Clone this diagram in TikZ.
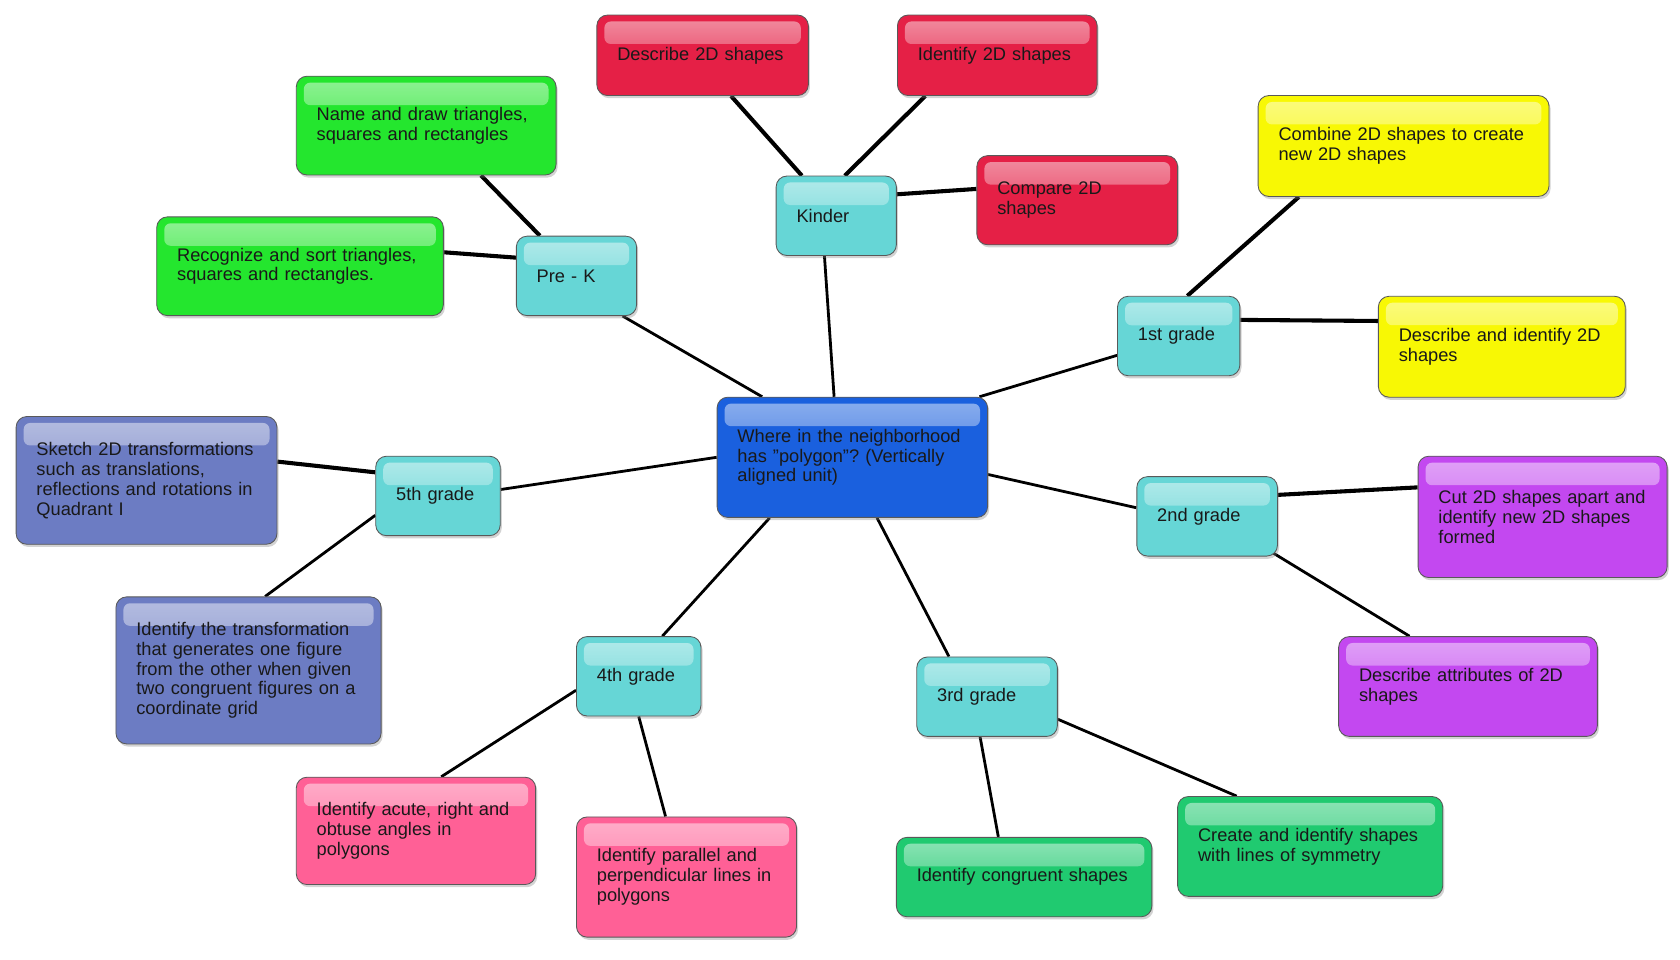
\documentclass[tikz,border=0pt]{standalone}
\usepackage{fontspec}
\setmainfont{Liberation Sans}
\frenchspacing
\usetikzlibrary{shadows,backgrounds,fadings}
\definecolor{rootblue}{RGB}{26,96,222}
\definecolor{gradeteal}{RGB}{102,214,214}
\definecolor{kred}{RGB}{229,32,70}
\definecolor{pgreen}{RGB}{36,230,46}
\definecolor{fyellow}{RGB}{248,248,4}
\definecolor{spurple}{RGB}{195,72,240}
\definecolor{vslate}{RGB}{108,124,195}
\definecolor{rpink}{RGB}{255,96,150}
\definecolor{tgreen}{RGB}{32,202,112}

\begin{document}
\begin{tikzpicture}[x=1pt, y=-1pt,
    main/.style = {draw=black!65, line width=0.8pt, rounded corners=10pt, inner xsep=19pt, inner ysep=0pt,
                   align=left, text=black!90, font=\fontsize{17}{18.5}\selectfont,
                   drop shadow={shadow xshift=1.5pt, shadow yshift=-2.5pt, opacity=0.35},
                   path picture={\fill[white, fill opacity=0.5, path fading=south, rounded corners=6pt]
                     ([xshift=7pt,yshift=-6pt]path picture bounding box.north west) rectangle
                     ([xshift=-7pt,yshift=-27pt]path picture bounding box.north east);}},
    dims/.style 2 args = {minimum width=#1pt, text width=#1pt-38pt, minimum height=#2pt},
    grade/.style = {main, fill=gradeteal, dims={#1}{74}},
    link/.style = {line width=2.6pt},
    twig/.style = {line width=3.8pt}]
                  \useasboundingbox (0,0) rectangle (1565,894);
                  % root and grades
                  \node[main, fill=rootblue, dims={252}{112}] (c) at (794,426) {Where in the neighborhood\\has "polygon"? (Vertically\\aligned unit)};
                  \node[grade=112] (k) at (779,201) {Kinder};
                  \node[grade=112] (pk) at (537,257) {Pre - K};
                  \node[grade=114] (g1) at (1098,313) {1st grade};
                  \node[grade=116] (g5) at (408,462) {5th grade};
                  \node[grade=131] (g2) at (1124.5,481) {2nd grade};
                  \node[grade=116] (g4) at (595,630) {4th grade};
                  \node[grade=131] (g3) at (919.5,649) {3rd grade};
                  % goals
                  \node[main, fill=kred, dims={197}{75}] (kd) at (654.5,51.5) {Describe 2D shapes};
                  \node[main, fill=kred, dims={186}{75}] (ki) at (929,51.5) {Identify 2D shapes};
                  \node[main, fill=kred, dims={187}{83}] (kc) at (1003.5,186.5) {Compare 2D\\shapes};
                  \node[main, fill=pgreen, dims={242}{92}] (pn) at (397,117) {Name and draw triangles,\\squares and rectangles};
                  \node[main, fill=pgreen, dims={267}{92}] (pr) at (279.5,248) {Recognize and sort triangles,\\squares and rectangles.};
                  \node[main, fill=fyellow, dims={271}{94}] (fc) at (1307.5,136) {Combine 2D shapes to create\\new 2D shapes};
                  \node[main, fill=fyellow, dims={230}{94}] (fd) at (1399,323) {Describe and identify 2D\\shapes};
                  \node[main, fill=spurple, dims={232}{113}] (sc) at (1437,481.5) {Cut 2D shapes apart and\\identify new 2D shapes\\formed};
                  \node[main, fill=spurple, dims={241}{93}] (sa) at (1367.5,639.5) {Describe attributes of 2D\\shapes};
                  \node[main, fill=vslate, dims={243}{119}] (vs) at (136.5,447.5) {Sketch 2D transformations\\such as translations,\\reflections and rotations in\\Quadrant I};
                  \node[main, fill=vslate, dims={247}{137}] (vi) at (231.5,624.5) {Identify the transformation\\that generates one figure\\from the other when given\\two congruent figures on a\\coordinate grid};
                  \node[main, fill=rpink, dims={223}{100}] (ra) at (387.5,774) {Identify acute, right and\\obtuse angles in\\polygons};
                  \node[main, fill=rpink, dims={205}{112}] (rp) at (639.5,817) {Identify parallel and\\perpendicular lines in\\polygons};
                  \node[main, fill=tgreen, dims={238}{74}] (tc) at (954,817) {Identify congruent shapes};
                  \node[main, fill=tgreen, dims={247}{93}] (ts) at (1220.5,788.5) {Create and identify shapes\\with lines of symmetry};
                  % connectors
                  \begin{scope}[on background layer]
                  \draw[link] ([xshift=-84pt]c.north) -- ([xshift=43pt]pk.south);
                  \draw[link] ([xshift=-17pt]c.north) -- ([xshift=-11pt]k.south);
                  \draw[link] ([xshift=-8pt]c.north east) -- ([yshift=-18pt]g1.west);
                  \draw[link] (c.west) -- ([yshift=6pt]g5.east);
                  \draw[link] ([yshift=-16pt]c.east) -- ([yshift=8pt]g2.west);
                  \draw[link] ([xshift=-77pt]c.south) -- ([xshift=22pt]g4.north);
                  \draw[link] ([xshift=23pt]c.south) -- ([xshift=-35.5pt]g3.north);
                  \draw[twig] ([xshift=-32pt]k.north) -- ([xshift=26.5pt]kd.south);
                  \draw[twig] ([xshift=8pt]k.north) -- ([xshift=-67pt]ki.south);
                  \draw[twig] ([yshift=20pt]k.east) -- ([yshift=10.5pt]kc.west);
                  \draw[twig] ([xshift=-34pt]pk.north) -- ([xshift=51pt]pn.south);
                  \draw[twig] ([yshift=17pt]pk.west) -- ([yshift=13pt]pr.east);
                  \draw[twig] ([xshift=8pt]g1.north) -- ([xshift=-97.5pt]fc.south);
                  \draw[twig] ([yshift=15pt]g1.east) -- ([yshift=24pt]fd.west);
                  \draw[twig] ([yshift=22pt]g5.west) -- ([yshift=17.5pt]vs.east);
                  \draw[link] ([yshift=-18pt]g5.west) -- ([xshift=15.5pt]vi.north);
                  \draw[twig] ([yshift=20pt]g2.east) -- ([yshift=27.5pt]sc.west);
                  \draw[link] ([xshift=-4pt,yshift=3pt]g2.south east) -- ([xshift=-54.5pt]sa.north);
                  \draw[link] ([yshift=-13pt]g4.west) -- ([xshift=23.5pt]ra.north);
                  \draw[link] (g4.south) -- ([xshift=-19.5pt]rp.north);
                  \draw[link] ([xshift=-6.5pt]g3.south) -- ([xshift=-24pt]tc.north);
                  \draw[link] ([yshift=-21pt]g3.east) -- ([xshift=-68.5pt]ts.north);
                  \end{scope}
              \end{tikzpicture}
\end{document}
